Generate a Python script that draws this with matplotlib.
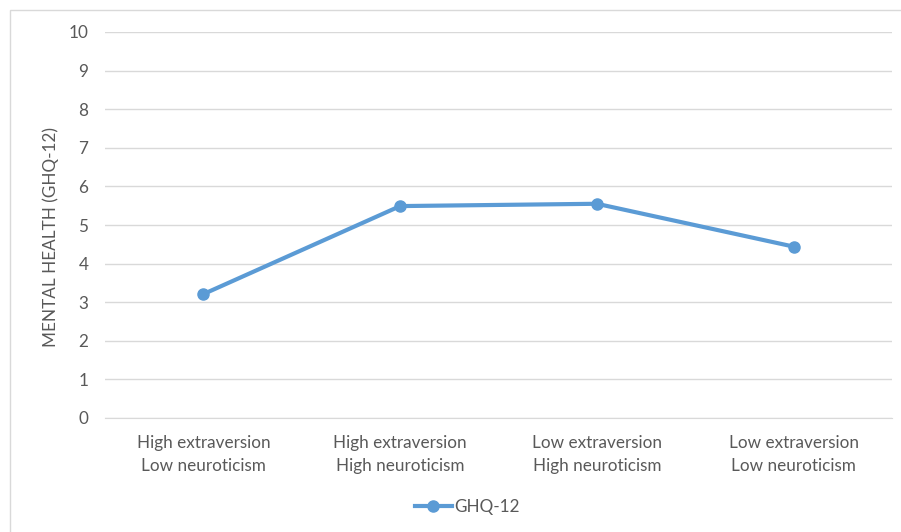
import matplotlib.pyplot as plt
from matplotlib.patches import Rectangle

plt.rcParams['font.family'] = ['Lato', 'DejaVu Sans']

categories = ["High extraversion\nLow neuroticism", "High extraversion\nHigh neuroticism",
              "Low extraversion\nHigh neuroticism", "Low extraversion\nLow neuroticism"]
ghq = [3.21, 5.49, 5.55, 4.44]
yticks = list(range(0, 11))

fig = plt.figure(figsize=(9.01, 5.32), dpi=100)
ax = fig.add_axes([105 / 901, 1 - 418 / 532, (892 - 105) / 901, (418 - 32) / 532])

x = range(len(categories))
ax.plot(x, ghq, color='#5B9BD5', lw=3, marker='o', ms=8, label='GHQ-12', zorder=3)

ax.set_xlim(-0.5, len(categories) - 0.5)
ax.set_ylim(0, 10)
ax.set_yticks(yticks)
ax.set_xticks(list(x))
ax.set_xticklabels(categories, linespacing=1.55)
ax.grid(axis='y', color='#D9D9D9', lw=1)
ax.set_axisbelow(True)
for s in ax.spines.values():
    s.set_visible(False)
ax.spines['bottom'].set_visible(True)
ax.spines['bottom'].set_color('#D9D9D9')
ax.tick_params(length=0, colors='#595959', labelsize=12.3)
ax.tick_params(axis='y', pad=12)
ax.tick_params(axis='x', pad=12)
ax.set_ylabel('MENTAL HEALTH (GHQ-12)', color='#595959', fontsize=12.3, labelpad=7)
ax.yaxis.label.set_position((0, 0.47))

ax.legend(loc='center', bbox_to_anchor=(467 / 901, 1 - 507 / 532), bbox_transform=fig.transFigure,
          frameon=False, fontsize=12.3, labelcolor='#595959', handlelength=2.2, handletextpad=0.1)

# light chart border (only the left and top edges are visible in the frame)
fig.patches.append(Rectangle((10 / 901, -0.1), 1.2, 1 - 10 / 532 + 0.1, transform=fig.transFigure,
                             fill=False, edgecolor='#D9D9D9', lw=1))

fig.savefig('out.png', dpi=100)
